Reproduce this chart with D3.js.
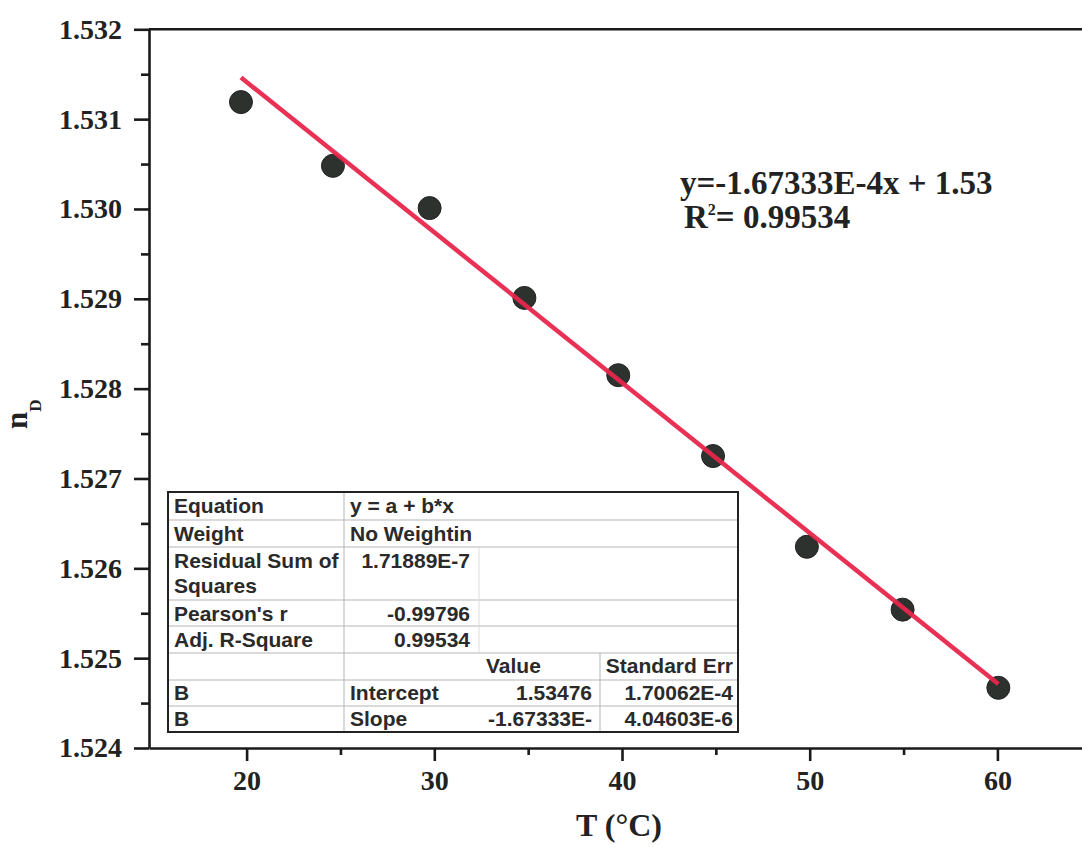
<!DOCTYPE html>
<html>
<head>
<meta charset="utf-8">
<script src="https://cdn.jsdelivr.net/npm/d3@7"></script>
<style>
  html, body { margin: 0; padding: 0; background: #fff; }
  svg { display: block; }
</style>
</head>
<body>
<svg id="chart" width="1082" height="847"></svg>
<script>
// Refractive index n_D measured against temperature
const temperature = [19.7, 24.6, 29.75, 34.8, 39.8, 44.85, 49.85, 54.95, 60.05];
const refractiveIndex = [1.53119, 1.53048, 1.53001, 1.52901, 1.52815, 1.52725, 1.52624, 1.52554, 1.52467];

// Linear fit y = a + b*x
const fitIntercept = 1.53476;
const fitSlope = -1.67333e-4;

const xMajorTicks = [20, 30, 40, 50, 60];
const xMinorTicks = [25, 35, 45, 55];
const yMajorTicks = [1.524, 1.525, 1.526, 1.527, 1.528, 1.529, 1.530, 1.531, 1.532];
const yMinorTicks = [1.5245, 1.5255, 1.5265, 1.5275, 1.5285, 1.5295, 1.5305, 1.5315];

const equationText = "y=-1.67333E-4x + 1.53";
const rSquaredText = "0.99534";

// Fit statistics table
const statLabels = [["Equation"], ["Weight"], ["Residual Sum of", "Squares"], ["Pearson's r"], ["Adj. R-Square"]];
const statValues = ["y = a + b*x", "No Weightin", "1.71889E-7", "-0.99796", "0.99534"];
const paramHeader = ["", "", "Value", "Standard Err"];
const paramRows = [
  ["B", "Intercept", "1.53476", "1.70062E-4"],
  ["B", "Slope", "-1.67333E-", "4.04603E-6"]
];

const svg = d3.select("#chart");
const serif = "'Liberation Serif', 'Times New Roman', serif";
const sans = "'Liberation Sans', Arial, sans-serif";

const x = d3.scaleLinear().domain([14.8, 64.8]).range([149, 1087.5]);
const y = d3.scaleLinear().domain([1.524, 1.532]).range([748, 29.3]);

const axisColor = "#1a1a1a";

// frame: top line
svg.append("line")
  .attr("x1", x.range()[0]).attr("x2", x.range()[1])
  .attr("y1", y(1.532)).attr("y2", y(1.532))
  .attr("stroke", axisColor).attr("stroke-width", 2.6);

// bottom axis
const gx = svg.append("g").attr("transform", `translate(0,${y.range()[0]})`);
gx.call(d3.axisBottom(x).tickValues(xMajorTicks).tickSize(13).tickSizeOuter(0).tickPadding(9).tickFormat(d3.format("d")));
const gxMinor = svg.append("g").attr("transform", `translate(0,${y.range()[0]})`);
gxMinor.call(d3.axisBottom(x).tickValues(xMinorTicks).tickSize(7).tickSizeOuter(0).tickFormat(""));
gxMinor.select(".domain").remove();

// left axis
const gy = svg.append("g").attr("transform", `translate(${x.range()[0]},0)`);
gy.call(d3.axisLeft(y).tickValues(yMajorTicks).tickSize(15).tickSizeOuter(0).tickPadding(12).tickFormat(d3.format(".3f")));
const gyMinor = svg.append("g").attr("transform", `translate(${x.range()[0]},0)`);
gyMinor.call(d3.axisLeft(y).tickValues(yMinorTicks).tickSize(8).tickSizeOuter(0).tickFormat(""));
gyMinor.select(".domain").remove();

[gx, gxMinor, gy, gyMinor].forEach(g => {
  g.selectAll(".domain").attr("stroke", axisColor).attr("stroke-width", 2.6);
  g.selectAll(".tick line").attr("stroke", axisColor).attr("stroke-width", 2.6);
  g.selectAll(".tick text")
    .attr("fill", "#222")
    .style("font-family", serif)
    .style("font-weight", "bold")
    .style("font-size", "28px");
});

// axis titles
svg.append("text")
  .attr("x", 619).attr("y", 836)
  .attr("text-anchor", "middle")
  .style("font-family", serif).style("font-weight", "bold").style("font-size", "32px")
  .attr("fill", "#222")
  .text("T (°C)");

const yTitle = svg.append("text")
  .attr("transform", "translate(27,429) rotate(-90)")
  .style("font-family", serif).style("font-weight", "bold")
  .attr("fill", "#222");
yTitle.append("tspan").style("font-size", "31px").text("n");
yTitle.append("tspan").style("font-size", "17px").attr("dy", 14).text("D");

// fit statistics table
const tableLeft = 168, tableRight = 738;
const colX = [168, 344, 479, 600, 738];
const rowY = [492, 520, 547, 600, 626, 653, 680, 706, 732];
const table = svg.append("g");
const gridColor = "#b5b5b5";

table.append("rect")
  .attr("x", tableLeft).attr("y", rowY[0])
  .attr("width", tableRight - tableLeft).attr("height", rowY[rowY.length - 1] - rowY[0])
  .attr("fill", "#fff");

// horizontal separators
table.selectAll("line.hsep").data(rowY.slice(1, -1)).join("line")
  .attr("class", "hsep")
  .attr("x1", tableLeft).attr("x2", tableRight)
  .attr("y1", d => d).attr("y2", d => d)
  .attr("stroke", gridColor).attr("stroke-width", 1);

// vertical separators
table.append("line").attr("x1", colX[1]).attr("x2", colX[1]).attr("y1", rowY[0]).attr("y2", rowY[8])
  .attr("stroke", gridColor).attr("stroke-width", 1);
table.append("line").attr("x1", colX[2]).attr("x2", colX[2]).attr("y1", rowY[2]).attr("y2", rowY[5])
  .attr("stroke", "#dcdcdc").attr("stroke-width", 1);
table.append("line").attr("x1", colX[3]).attr("x2", colX[3]).attr("y1", rowY[5]).attr("y2", rowY[8])
  .attr("stroke", gridColor).attr("stroke-width", 1);

table.append("rect")
  .attr("x", tableLeft).attr("y", rowY[0])
  .attr("width", tableRight - tableLeft).attr("height", rowY[rowY.length - 1] - rowY[0])
  .attr("fill", "none").attr("stroke", "#222").attr("stroke-width", 2);

const cellText = (sel) => sel
  .style("font-family", sans).style("font-weight", "bold").style("font-size", "21px")
  .attr("fill", "#2a2a2a");

// statistic rows
const statRowTop = [rowY[0], rowY[1], rowY[2], rowY[3], rowY[4]];
statLabels.forEach((lines, i) => {
  lines.forEach((ln, j) => {
    table.append("text").call(cellText)
      .attr("x", tableLeft + 6)
      .attr("y", statRowTop[i] + 21 + j * 25)
      .text(ln);
  });
  const leftAligned = i < 2;
  table.append("text").call(cellText)
    .attr("x", leftAligned ? colX[1] + 6 : colX[2] - 9)
    .attr("y", statRowTop[i] + 21)
    .attr("text-anchor", leftAligned ? "start" : "end")
    .text(statValues[i]);
});

// parameter header and rows
table.append("text").call(cellText)
  .attr("x", colX[2] + 7).attr("y", rowY[5] + 20)
  .text(paramHeader[2]);
table.append("text").call(cellText)
  .attr("x", colX[4] - 5).attr("y", rowY[5] + 20)
  .attr("text-anchor", "end")
  .text(paramHeader[3]);

paramRows.forEach((row, i) => {
  const top = rowY[6 + i];
  table.append("text").call(cellText).attr("x", tableLeft + 6).attr("y", top + 20).text(row[0]);
  table.append("text").call(cellText).attr("x", colX[1] + 6).attr("y", top + 20).text(row[1]);
  table.append("text").call(cellText).attr("x", colX[3] - 8).attr("y", top + 20).attr("text-anchor", "end").text(row[2]);
  table.append("text").call(cellText).attr("x", colX[4] - 5).attr("y", top + 20).attr("text-anchor", "end").text(row[3]);
});

// data points
svg.append("g").selectAll("circle")
  .data(temperature.map((t, i) => [t, refractiveIndex[i]]))
  .join("circle")
  .attr("cx", d => x(d[0]))
  .attr("cy", d => y(d[1]))
  .attr("r", 11.5)
  .attr("fill", "#2e322f")
  .attr("stroke", "#222")
  .attr("stroke-width", 1);

// fitted line over the measured range
const xFit = d3.extent(temperature);
svg.append("line")
  .attr("x1", x(xFit[0])).attr("y1", y(fitIntercept + fitSlope * xFit[0]))
  .attr("x2", x(xFit[1])).attr("y2", y(fitIntercept + fitSlope * xFit[1]))
  .attr("stroke", "#e8264c").attr("stroke-width", 4.5)
  .attr("stroke-opacity", 0.95);

// equation annotation
const eq = svg.append("g")
  .style("font-family", serif).style("font-weight", "bold")
  .attr("fill", "#222");
eq.append("text").attr("x", 680).attr("y", 194).style("font-size", "33px").text(equationText);
const r2 = eq.append("text").attr("x", 684).attr("y", 228).style("font-size", "33px");
r2.append("tspan").text("R");
r2.append("tspan").attr("dy", -13).style("font-size", "16px").text("2");
r2.append("tspan").attr("dy", 13).text("= " + rSquaredText);
</script>
</body>
</html>
